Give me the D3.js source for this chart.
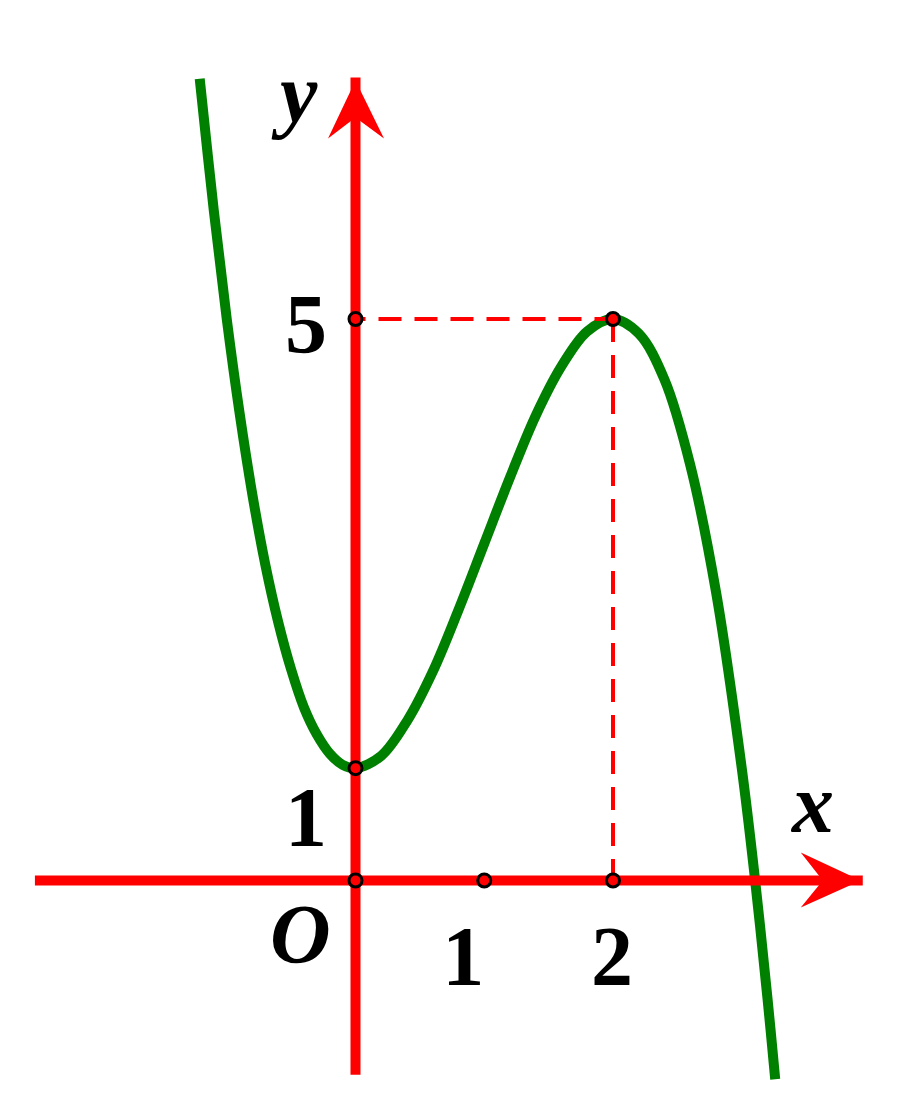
<!DOCTYPE html>
<html>
<head>
<meta charset="utf-8">
<script src="https://cdn.jsdelivr.net/npm/d3@7"></script>
<style>
html,body{margin:0;padding:0;background:#fff;}
svg{display:block;}
text{font-family:"Liberation Serif","Times New Roman",serif;font-weight:bold;fill:#000;}
</style>
</head>
<body>
<svg id="chart" width="898" height="1113"></svg>
<script>
// ---- data: y = f(x) ----
const curveX = [-1.21,-1.1,-1.0,-0.9,-0.8,-0.7,-0.6,-0.5,-0.4,-0.3,-0.2,-0.1,0,0.2,0.4,0.6,0.8,1.0,1.2,1.4,1.6,1.8,2.0,2.2,2.4,2.6,2.8,3.0,3.1,3.2,3.26];
const curveY = [7.14,5.96,5.0,4.16,3.43,2.81,2.30,1.88,1.54,1.30,1.13,1.03,1.0,1.11,1.42,1.86,2.41,3.0,3.59,4.14,4.58,4.89,5.0,4.87,4.46,3.70,2.57,1.0,0.04,-1.05,-1.77];
// marked points
const pointX = [0, 2, 0, 0, 1, 2];
const pointY = [5, 5, 1, 0, 0, 0];
// tick labels
const xTickValues = [1, 2];
const xTickLabels = ["1", "2"];
const yTickValues = [5, 1];
const yTickLabels = ["5", "1"];
// axis extents (data units)
const xAxisExtent = [-2.49, 3.94];
const yAxisExtent = [-1.73, 7.15];
// peak guide point
const peak = {x: 2, y: 5};

const svg = d3.select("#chart");
const x = d3.scaleLinear().domain([0, 2]).range([355.5, 613]);
const y = d3.scaleLinear().domain([0, 5]).range([880.5, 319]);

const RED = "#ff0000", GREEN = "#008000";

// curve
const line = d3.line().x(d => x(d[0])).y(d => y(d[1])).curve(d3.curveCatmullRom.alpha(0.5));
svg.append("path")
  .datum(curveX.map((v, i) => [v, curveY[i]]))
  .attr("d", line)
  .attr("fill", "none")
  .attr("stroke", GREEN)
  .attr("stroke-width", 10)
  .attr("stroke-linecap", "butt");

// axes
const axisW = 10;
svg.append("line")
  .attr("x1", x(xAxisExtent[0])).attr("x2", x(xAxisExtent[1]))
  .attr("y1", y(0)).attr("y2", y(0))
  .attr("stroke", RED).attr("stroke-width", axisW);
svg.append("line")
  .attr("x1", x(0)).attr("x2", x(0))
  .attr("y1", y(yAxisExtent[0])).attr("y2", y(yAxisExtent[1]))
  .attr("stroke", RED).attr("stroke-width", axisW);

// arrowheads
const xt = x(xAxisExtent[1]) - 2, y0 = y(0);
svg.append("path")
  .attr("d", `M${xt},${y0} L${xt-60},${y0-28} L${xt-38},${y0} L${xt-60},${y0+27} Z`)
  .attr("fill", RED);
const yt = y(yAxisExtent[1]) + 3, x0 = x(0);
svg.append("path")
  .attr("d", `M${x0},${yt} L${x0+28.5},${yt+58} L${x0},${yt+37} L${x0-27.5},${yt+58} Z`)
  .attr("fill", RED);

// dashed guide lines
svg.append("line")
  .attr("x1", x(0)).attr("x2", x(peak.x))
  .attr("y1", y(peak.y)).attr("y2", y(peak.y))
  .attr("stroke", RED).attr("stroke-width", 4)
  .attr("stroke-dasharray", "23,13").attr("stroke-dashoffset", 13);
svg.append("line")
  .attr("x1", x(peak.x)).attr("x2", x(peak.x))
  .attr("y1", y(peak.y)).attr("y2", y(0))
  .attr("stroke", RED).attr("stroke-width", 4)
  .attr("stroke-dasharray", "23,13");

// marked points
svg.selectAll("circle.pt")
  .data(pointX.map((v, i) => [v, pointY[i]]))
  .enter().append("circle")
  .attr("class", "pt")
  .attr("cx", d => x(d[0])).attr("cy", d => y(d[1]))
  .attr("r", 6.5)
  .attr("fill", RED).attr("stroke", "#000").attr("stroke-width", 3);

// tick labels (placed left of their tick as in the original)
svg.selectAll("text.xt")
  .data(xTickValues)
  .enter().append("text")
  .attr("class", "xt")
  .attr("x", d => d === 1 ? x(d) - 21 : x(d) - 1)
  .attr("y", 985)
  .attr("text-anchor", "middle")
  .attr("font-size", 84)
  .text((d, i) => xTickLabels[i]);
svg.selectAll("text.yt")
  .data(yTickValues)
  .enter().append("text")
  .attr("class", "yt")
  .attr("x", 306)
  .attr("y", (d, i) => i === 0 ? y(d) + 34 : y(d) + 78)
  .attr("text-anchor", "middle")
  .attr("font-size", 84)
  .text((d, i) => yTickLabels[i]);

// axis names and origin
svg.append("text").attr("x", 280).attr("y", 122).attr("font-size", 84)
  .attr("font-style", "italic").text("y");
svg.append("text").attr("x", 792).attr("y", 832).attr("font-size", 84)
  .attr("font-style", "italic").text("x");
svg.append("text").attr("x", 270).attr("y", 963).attr("font-size", 84)
  .attr("font-style", "italic").text("O");
</script>
</body>
</html>
